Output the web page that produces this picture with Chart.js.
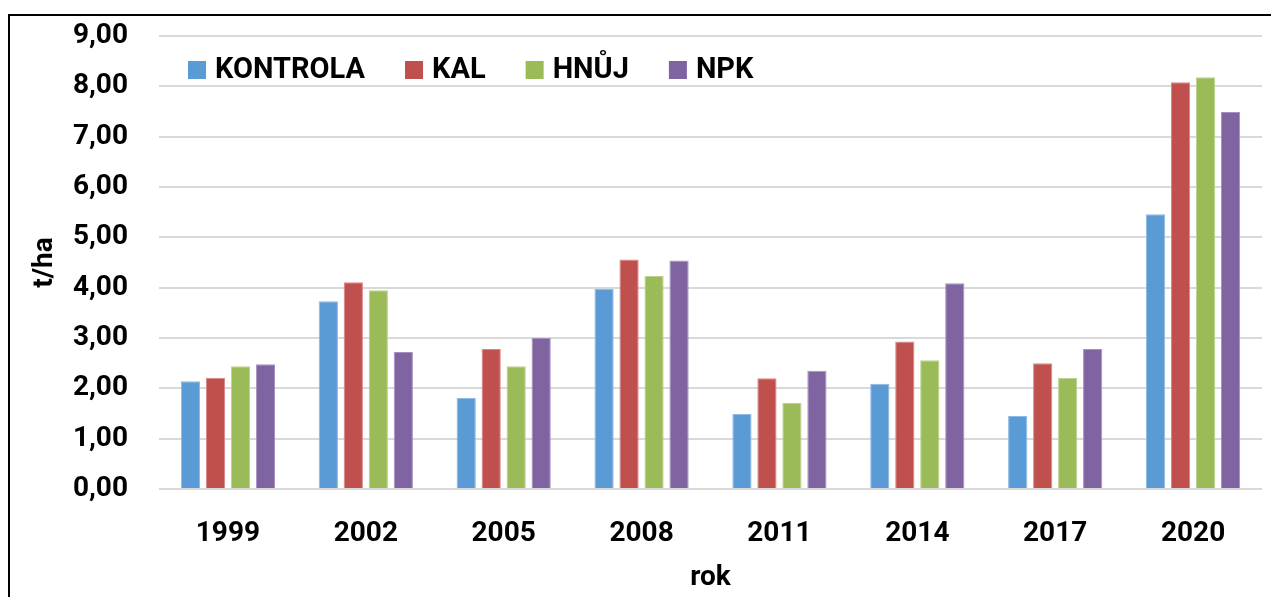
<!DOCTYPE html>
<html>
<head>
<meta charset="utf-8">
<script src="https://cdn.jsdelivr.net/npm/chart.js@4"></script>
<style>
html,body{margin:0;padding:0;background:#fff;}
#wrap{position:relative;width:1271px;height:597px;}
</style>
</head>
<body>
<div id="wrap"><canvas id="c" width="1271" height="597"></canvas></div>
<script>
const categories = ['1999','2002','2005','2008','2011','2014','2017','2020'];
const seriesNames = ['KONTROLA','KAL','HNŮJ','NPK'];
const kontrola = [2.14, 3.73, 1.81, 3.98, 1.49, 2.09, 1.45, 5.46];
const kal      = [2.21, 4.11, 2.78, 4.56, 2.20, 2.93, 2.50, 8.08];
const hnuj     = [2.44, 3.95, 2.44, 4.23, 1.71, 2.56, 2.21, 8.18];
const npk      = [2.48, 2.72, 3.00, 4.54, 2.35, 4.09, 2.78, 7.49];
const colors = ['#5B9BD5','#C0504D','#9BBB59','#8064A2'];
const borders = ['#8DB9E4','#D88784','#BCD38D','#A590C0'];
const yTitle = 't/ha';
const xTitle = 'rok';

const FONT = 'Roboto';

const frame = {
  id:'frame',
  beforeDraw(chart){
    const ctx = chart.ctx;
    ctx.save();
    ctx.fillStyle='#fff';
    ctx.fillRect(0,0,chart.width,chart.height);
    ctx.strokeStyle='#000';
    ctx.lineWidth=2;
    ctx.beginPath();
    ctx.moveTo(9,700);
    ctx.lineTo(9,15);
    ctx.lineTo(1271,15);
    ctx.stroke();
    ctx.restore();
  }
};

const inLegend = {
  id:'inLegend',
  afterDraw(chart){
    const ctx = chart.ctx;
    ctx.save();
    ctx.font = 'bold 29px ' + FONT;
    ctx.textBaseline = 'middle';
    let x = chart.chartArea.left + 29;
    const yc = 70;
    chart.data.datasets.forEach(ds=>{
      ctx.fillStyle = ds.backgroundColor;
      ctx.fillRect(x, yc-9, 18, 18);
      x += 18 + 9;
      ctx.fillStyle = '#000';
      ctx.fillText(ds.label, x, yc+1);
      x += ctx.measureText(ds.label).width + 40;
    });
    ctx.restore();
  }
};

const dataArrays = [kontrola, kal, hnuj, npk];
new Chart(document.getElementById('c'), {
  type:'bar',
  data:{
    labels:categories,
    datasets: seriesNames.map((n,i)=>({
      label:n,
      data:dataArrays[i],
      backgroundColor:colors[i],
      borderColor:borders[i],
      borderWidth:1,
      barPercentage:0.77,
      categoryPercentage:0.725
    }))
  },
  options:{
    responsive:false,
    animation:false,
    devicePixelRatio:1,
    layout:{padding:{left:0,top:36,right:9,bottom:0}},
    plugins:{legend:{display:false},tooltip:{enabled:false}},
    scales:{
      x:{
        grid:{display:false},
        border:{display:false},
        ticks:{color:'#000',font:{family:FONT,weight:'bold',size:28,lineHeight:1.2},padding:20,maxRotation:0},
        title:{display:true,text:xTitle,color:'#000',font:{family:FONT,weight:'bold',size:28,lineHeight:1.2},padding:{top:0,bottom:2}},
        afterFit(s){ s.height = 108; s.paddingLeft = 0; s.paddingRight = 0; }
      },
      y:{
        min:0,max:9,
        ticks:{stepSize:1,color:'#000',font:{family:FONT,weight:'bold',size:28},padding:31,
          callback:(v)=>v.toFixed(2).replace('.',',')},
        grid:{color:'#D9D9D9',lineWidth:2,drawTicks:false},
        border:{display:false},
        title:{display:true,text:yTitle,color:'#000',font:{family:FONT,weight:'bold',size:28,lineHeight:1.2},padding:{top:28,bottom:0}},
        afterFit(s){ s.width = 159; s.paddingTop = 0; s.paddingBottom = 0; }
      }
    }
  },
  plugins:[frame,inLegend]
});
</script>
</body>
</html>
